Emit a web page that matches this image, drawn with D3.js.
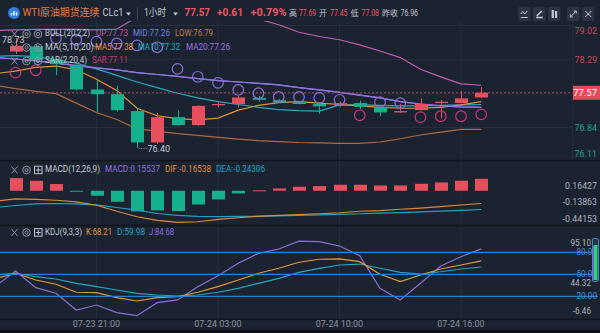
<!DOCTYPE html>
<html><head><meta charset="utf-8">
<script src="https://cdn.jsdelivr.net/npm/d3@7"></script>
<style>html,body{margin:0;padding:0;background:#1b2230;overflow:hidden}svg{display:block}</style>
</head><body><svg id="c" width="600" height="333"></svg>
<script>
// ---------- data ----------
const categories = ["07-23 16:00","07-23 17:00","07-23 18:00","07-23 19:00","07-23 20:00","07-23 21:00","07-23 22:00","07-23 23:00","07-24 00:00","07-24 01:00","07-24 02:00","07-24 03:00","07-24 04:00","07-24 06:00","07-24 07:00","07-24 08:00","07-24 09:00","07-24 10:00","07-24 11:00","07-24 12:00","07-24 13:00","07-24 14:00","07-24 15:00","07-24 16:00","07-24 17:00"];
const candleCats = categories.slice(1);
const openP  = [78.45,78.56,78.27,78.14,77.64,77.54,77.18,76.51,77.05,76.88,77.31,77.33,77.46,77.41,77.38,77.33,77.29,77.35,77.26,77.15,77.20,77.35,77.35,77.47];
const highP  = [78.73,78.60,78.30,78.20,77.84,77.71,77.25,77.14,77.20,77.30,77.38,77.50,77.50,77.44,77.40,77.35,77.38,77.40,77.30,77.33,77.45,77.42,77.61,77.69];
const lowP   = [78.40,78.22,77.95,77.62,77.15,77.17,76.40,76.48,76.87,76.86,77.26,77.26,77.38,77.35,77.32,77.12,77.27,77.22,77.07,77.14,77.20,77.03,77.35,77.45];
const closeP = [78.57,78.27,78.18,77.64,77.54,77.20,76.51,77.05,76.88,77.29,77.33,77.47,77.42,77.36,77.33,77.28,77.35,77.27,77.15,77.18,77.33,77.38,77.45,77.57];
const bollUp  = [78.90,78.91,78.92,78.92,78.92,78.91,78.93,79.18,79.32,79.40,79.40,79.36,79.26,79.14,79.02,78.86,78.77,78.70,78.59,78.46,78.32,78.07,77.91,77.76,77.73];
const bollMid = [78.32,78.29,78.25,78.20,78.15,78.10,78.06,78.00,77.96,77.92,77.87,77.83,77.80,77.77,77.74,77.68,77.63,77.58,77.52,77.46,77.38,77.33,77.29,77.27,77.26];
const bollLow = [77.73,77.66,77.60,77.55,77.35,77.15,77.00,76.80,76.75,76.70,76.66,76.62,76.58,76.55,76.53,76.51,76.50,76.49,76.49,76.52,76.59,76.67,76.73,76.79,76.79];
const ma5  = [77.98,78.03,78.11,78.14,78.06,77.86,77.62,77.24,77.08,77.02,76.99,77.03,77.20,77.30,77.36,77.38,77.35,77.32,77.29,77.26,77.24,77.24,77.26,77.31,77.38];
const ma10 = [78.35,78.36,78.34,78.28,78.20,78.08,77.94,77.80,77.68,77.56,77.46,77.38,77.32,77.26,77.21,77.19,77.18,77.31,77.31,77.30,77.29,77.29,77.30,77.31,77.32];
const ma20 = [78.32,78.29,78.25,78.20,78.15,78.10,78.06,78.00,77.96,77.92,77.87,77.83,77.80,77.77,77.74,77.68,77.63,77.58,77.52,77.46,77.38,77.33,77.29,77.27,77.26];
const sar  = [78.00,78.05,78.73,78.70,78.66,78.62,78.58,78.54,78.08,77.91,77.78,77.63,77.56,77.48,77.48,77.46,77.42,77.09,77.37,77.35,77.05,77.07,77.07,77.11];
const macdHist = [0.164,0.130,0.087,-0.010,-0.065,-0.143,-0.268,-0.255,-0.264,-0.178,-0.113,-0.035,0.006,0.030,0.052,0.061,0.078,0.078,0.069,0.069,0.091,0.108,0.130,0.155];
const dif = [-0.136,-0.106,-0.113,-0.123,-0.143,-0.188,-0.266,-0.337,-0.383,-0.409,-0.402,-0.370,-0.350,-0.331,-0.318,-0.309,-0.298,-0.285,-0.266,-0.257,-0.240,-0.225,-0.205,-0.185,-0.165];
const dea = [-0.217,-0.191,-0.171,-0.165,-0.169,-0.184,-0.217,-0.252,-0.295,-0.320,-0.333,-0.336,-0.333,-0.330,-0.327,-0.320,-0.314,-0.307,-0.298,-0.290,-0.283,-0.275,-0.265,-0.255,-0.243];
const kLine = [44.0,51.4,42.2,36.4,25.5,24.9,18.1,13.6,18.1,19.5,25.5,33.1,42.2,51.4,58.2,66.4,70.5,70.9,67.2,50.0,40.0,49.0,57.2,62.7,68.21];
const dLine = [49.0,51.4,46.7,43.6,37.7,33.1,28.6,24.1,21.8,20.4,21.8,25.5,30.9,37.7,44.5,52.7,58.2,62.7,64.0,58.2,52.7,50.4,53.5,57.2,59.98];
const jLine = [33.6,54.5,31.8,24.1,1.3,8.1,-2.3,-6.46,11.3,15.0,33.1,48.1,65.0,78.6,84.5,95.1,94.5,88.6,75.4,30.9,15.0,37.7,61.3,74.0,84.68];
const priceTicks = [79.02,78.29,77.57,76.84,76.11];
const lastPrice = 77.57;
const macdTicks = [0.16427,-0.13863,-0.44153];
const kdjLevels = [80,50,20];
const kdjTicks = ["95.10","80.00","50.00","44.32","20.00","-6.46"];
const kdjTickVals = [95.10,80,50,44.32,20,-6.46];
const timeTicks = ["07-23 21:00","07-24 03:00","07-24 10:00","07-24 16:00"];

// ---------- setup ----------
const svg = d3.select("#c");
const BG="#1b2230", GRID="#262e3d", TXT="#c4c9d2", RED="#e84f5e", GRN="#15b08c";
const C = {up:"#c45cb4", mid:"#8a78e6", low:"#b06a3a", ma5:"#e0962e", ma10:"#27a9c2", ma20:"#8f74e2",
  sarUp:"#8b6fd8", sarDn:"#c9367a", dif:"#d98c36", dea:"#1ea2c4", k:"#e39a30", d:"#1fa8c4", j:"#8c6fd8", lvl:"#2b7fc9"};
const FONT = "Roboto, 'Noto Sans CJK SC', sans-serif";
svg.append("rect").attr("width",600).attr("height",333).attr("fill",BG);

const x = d3.scalePoint().domain(categories).range([-4.75, 481.25]);
const yP = d3.scaleLinear().domain([76.84,78.29]).range([127,59]);
const yM = d3.scaleLinear().domain([-0.44153,0.16427]).range([224.8,178.1]);
const yK = d3.scaleLinear().domain([20,80]).range([296.3,252.3]);
const CW = 13;

const defs = svg.append("defs");
function clip(id,x0,y0,w,h){defs.append("clipPath").attr("id",id).append("rect").attr("x",x0).attr("y",y0).attr("width",w).attr("height",h);}
clip("cMain",0,21,573,139); clip("cMacd",0,161,573,64); clip("cKdj",0,226,590,93);

svg.append("g").selectAll("line").data(timeTicks).join("line")
  .attr("x1",d=>x(d)).attr("x2",d=>x(d)).attr("y1",21).attr("y2",319).attr("stroke",GRID).attr("stroke-width",1);
svg.append("g").attr("clip-path","url(#cMain)").selectAll("line").data(priceTicks).join("line")
  .attr("x1",0).attr("x2",573).attr("y1",d=>Math.round(yP(d))+0.5).attr("y2",d=>Math.round(yP(d))+0.5).attr("stroke",GRID);
svg.append("line").attr("x1",572.5).attr("x2",572.5).attr("y1",21).attr("y2",160).attr("stroke","#232a38");

[160.5,225.5,319.5].forEach(yy=>svg.append("line").attr("x1",0).attr("x2",600).attr("y1",yy).attr("y2",yy).attr("stroke","#10141b").attr("stroke-width",1.5));
svg.append("rect").attr("x",0).attr("y",330).attr("width",600).attr("height",3).attr("fill","#0c0f15");

// ---------- main pane ----------
const gMain = svg.append("g").attr("clip-path","url(#cMain)");
const line = (ys,arr)=>d3.line().x((d,i)=>x(categories[i])).y(d=>ys(d))(arr);
gMain.append("path").attr("d",line(yP,bollLow)).attr("fill","none").attr("stroke",C.low).attr("stroke-width",1.2);
gMain.append("path").attr("d",line(yP,bollUp)).attr("fill","none").attr("stroke",C.up).attr("stroke-width",1.2);
gMain.append("path").attr("d",line(yP,ma10)).attr("fill","none").attr("stroke",C.ma10).attr("stroke-width",1.2);
gMain.append("path").attr("d",line(yP,ma5)).attr("fill","none").attr("stroke",C.ma5).attr("stroke-width",1.2);
gMain.append("path").attr("d",line(yP,bollMid)).attr("fill","none").attr("stroke",C.mid).attr("stroke-width",1.2);
gMain.append("path").attr("d",line(yP,ma20)).attr("fill","none").attr("stroke",C.ma20).attr("stroke-width",1.2);

gMain.append("line").attr("x1",0).attr("x2",573).attr("y1",yP(lastPrice)).attr("y2",yP(lastPrice))
  .attr("stroke","#9c4654").attr("stroke-dasharray","2,2");

const cg = gMain.append("g").selectAll("g").data(candleCats).join("g");
cg.append("line").attr("x1",d=>Math.round(x(d))+0.5).attr("x2",d=>Math.round(x(d))+0.5)
  .attr("y1",(d,i)=>yP(highP[i])).attr("y2",(d,i)=>yP(lowP[i]))
  .attr("stroke",(d,i)=>closeP[i]>=openP[i]?RED:GRN);
cg.append("rect").attr("x",d=>Math.round(x(d))+0.5-CW/2).attr("width",CW)
  .attr("y",(d,i)=>yP(Math.max(openP[i],closeP[i])))
  .attr("height",(d,i)=>Math.max(1.2,Math.abs(yP(openP[i])-yP(closeP[i]))))
  .attr("fill",(d,i)=>closeP[i]>=openP[i]?RED:GRN);

gMain.append("g").selectAll("circle").data(candleCats).join("circle")
  .attr("cx",d=>x(d)).attr("cy",(d,i)=>yP(sar[i])).attr("r",5.3).attr("fill","none").attr("stroke-width",1.2)
  .attr("stroke",(d,i)=>sar[i]>highP[i]?C.sarUp:C.sarDn);

const iMax = d3.maxIndex(highP), iMin = d3.minIndex(lowP);
svg.append("text").attr("x",2).attr("y",yP(highP[iMax])+2.5).attr("font-size",9).attr("font-family",FONT).attr("fill",TXT).attr("dominant-baseline","middle").text(highP[iMax].toFixed(2));
svg.append("text").attr("x",x(candleCats[iMin])+1).attr("y",yP(lowP[iMin])+2).attr("font-size",9).attr("font-family",FONT).attr("fill",TXT).attr("dominant-baseline","middle").text("····"+lowP[iMin].toFixed(2));

svg.append("g").selectAll("text").data(priceTicks.filter(v=>v!==lastPrice)).join("text")
  .attr("x",597).attr("text-anchor","end").attr("dominant-baseline","middle")
  .attr("y",d=>Math.max(32,Math.min(155,yP(d)+2))).attr("font-size",9).attr("font-family",FONT)
  .attr("fill",d=>d>lastPrice?"#c94651":"#17a589").text(d=>d.toFixed(2));
svg.append("rect").attr("x",573).attr("y",yP(lastPrice)-7).attr("width",27).attr("height",14).attr("fill","#e04e5c");
svg.append("text").attr("x",597).attr("y",yP(lastPrice)+0.5).attr("text-anchor","end").attr("dominant-baseline","middle")
  .attr("font-size",9.5).attr("font-family",FONT).attr("fill","#fff").text(lastPrice.toFixed(2));

// ---------- MACD pane ----------
const gM = svg.append("g").attr("clip-path","url(#cMacd)");
gM.append("g").selectAll("rect").data(candleCats).join("rect")
  .attr("x",d=>Math.round(x(d))+0.5-CW/2).attr("width",CW)
  .attr("y",(d,i)=>Math.min(yM(0),yM(macdHist[i])))
  .attr("height",(d,i)=>Math.max(1,Math.abs(yM(macdHist[i])-yM(0))))
  .attr("fill",(d,i)=>macdHist[i]>=0?RED:GRN);
gM.append("path").attr("d",line(yM,dea)).attr("fill","none").attr("stroke",C.dea).attr("stroke-width",1.2);
gM.append("path").attr("d",line(yM,dif)).attr("fill","none").attr("stroke",C.dif).attr("stroke-width",1.2);
const macdLabelY = [186.7,202.5,219.3];
svg.append("g").selectAll("text").data(macdTicks).join("text")
  .attr("x",597).attr("y",(d,i)=>macdLabelY[i]).attr("text-anchor","end").attr("dominant-baseline","middle")
  .attr("font-size",8.8).attr("font-family",FONT).attr("fill","#aeb3bc").text(d=>d.toFixed(5));

// ---------- KDJ pane ----------
const gK = svg.append("g").attr("clip-path","url(#cKdj)");
svg.append("g").selectAll("line").data(kdjLevels).join("line")
  .attr("x1",0).attr("x2",598).attr("y1",d=>yK(d)).attr("y2",d=>yK(d)).attr("stroke",C.lvl).attr("stroke-width",1.2);
gK.append("path").attr("d",line(yK,jLine)).attr("fill","none").attr("stroke",C.j).attr("stroke-width",1.2);
gK.append("path").attr("d",line(yK,dLine)).attr("fill","none").attr("stroke",C.d).attr("stroke-width",1.2);
gK.append("path").attr("d",line(yK,kLine)).attr("fill","none").attr("stroke",C.k).attr("stroke-width",1.2);
const kdjLabelY = v=> v>90?244 : v<0?312 : (v===44.32?284:yK(v)+0.5);
svg.append("g").selectAll("text").data(kdjTickVals).join("text")
  .attr("x",(d)=>kdjLevels.includes(d)?597:591).attr("y",d=>kdjLabelY(d)).attr("text-anchor","end").attr("dominant-baseline","middle")
  .attr("font-size",8.2).attr("font-family",FONT)
  .attr("fill",d=>kdjLevels.includes(d)?"#3d8fd8":"#aeb3bc").text((d,i)=>kdjTicks[i]);
svg.append("rect").attr("x",592.5).attr("y",238.5).attr("width",6).attr("height",43).attr("rx",1.5).attr("fill","#2a3140").attr("stroke","#3b86d2");
svg.append("rect").attr("x",594).attr("y",245).attr("width",3.5).attr("height",35).attr("fill","#2fd46a");
svg.append("line").attr("x1",593.5).attr("x2",593.5).attr("y1",246).attr("y2",280).attr("stroke","#7a5cd0").attr("stroke-width",1);

// ---------- x axis ----------
svg.append("g").selectAll("text").data(timeTicks).join("text")
  .attr("x",d=>x(d)).attr("y",325).attr("text-anchor","middle").attr("dominant-baseline","middle")
  .attr("font-size",9).attr("font-family",FONT).attr("fill","#8b919d").text(d=>d);

// ---------- legends ----------
function icons(y, third){
  const g = svg.append("g").attr("stroke","#8f95a0").attr("fill","none").attr("stroke-width",1);
  g.append("path").attr("d",`M11.5,${y-3.5}L17.5,${y+3.5}M17.5,${y-3.5}L11.5,${y+3.5}`);
  g.append("circle").attr("cx",26.5).attr("cy",y).attr("r",3.8);
  g.append("circle").attr("cx",26.5).attr("cy",y).attr("r",1.5);
  if(third==="eye"){ g.append("circle").attr("cx",38).attr("cy",y).attr("r",3.8); g.append("circle").attr("cx",38).attr("cy",y).attr("r",1.6);}
  else { g.append("rect").attr("x",34.5).attr("y",y-3.8).attr("width",7.5).attr("height",7.5).attr("stroke","#c4c9d2");
         g.append("path").attr("stroke","#c4c9d2").attr("d",`M38.25,${y-2.5}V${y+2.5}M35.8,${y}H40.7`);}
}
function legend(y, items){
  svg.append("g").selectAll("text").data(items).join("text")
    .attr("x",d=>d[1]).attr("y",y).attr("dominant-baseline","middle").attr("font-size",8.8).attr("font-family",FONT)
    .attr("textLength",d=>d[3]).attr("lengthAdjust","spacingAndGlyphs")
    .attr("fill",d=>d[2]).text(d=>d[0]);
}
icons(34,"eye"); legend(34,[["BOLL(20,2,2)",45,TXT,45],["UP:77.73",96,"#cf56a2",32],["MID:77.26",133,"#6f7ee6",37],["LOW:76.79",175,"#c87c40",38]]);
icons(47.5,"eye"); legend(47.5,[["MA(5,10,20)",45,TXT,49],["MA5:77.38",95,"#e69a2e",38],["MA10:77.32",138,"#23b0c4",42],["MA20:77.26",186,"#9d72e2",44]]);
icons(61,"eye"); legend(61,[["SAR(2,20,4)",45,TXT,42],["SAR:77.11",92,"#c93a72",36]]);
icons(170,"box"); legend(170,[["MACD(12,26,9)",45,TXT,55],["MACD:0.15537",105,"#8e70e0",55],["DIF:-0.16538",165,"#e0923a",46],["DEA:-0.24306",216,"#1fa8c8",49]]);
icons(232.5,"box"); legend(232.5,[["KDJ(9,3,3)",45,TXT,37],["K:68.21",86,"#e39a30",26],["D:59.98",117,"#1fa8c8",28],["J:84.68",149,"#8e70e0",25]]);

// ---------- header ----------
const hg = svg.append("g");
hg.append("circle").attr("cx",14).attr("cy",13).attr("r",6).attr("fill","#2f7fe0");
[[11.5,2.5],[14,4.5],[16.5,3.2]].forEach(([bx,bh])=>hg.append("rect").attr("x",bx-0.7).attr("y",15.5-bh).attr("width",1.4).attr("height",bh).attr("fill","#fff"));
function ht(t,x0,w,c,fs,fw){hg.append("text").attr("x",x0).attr("y",13.5).attr("dominant-baseline","middle").attr("font-size",fs).attr("font-weight",fw||400)
  .attr("font-family",FONT).attr("fill",c).attr("textLength",w).attr("lengthAdjust","spacingAndGlyphs").text(t);}
ht("WTI原油期货连续",22.5,77,"#ec7a3c",10.5);
ht("CLc1",102.5,21,"#c4c9d2",10.5);
hg.append("path").attr("d","M126,12.5h5l-2.5,3z").attr("fill","#c4c9d2");
hg.append("line").attr("x1",137.5).attr("x2",137.5).attr("y1",7).attr("y2",20).attr("stroke","#3a4252");
ht("1小时",144,22,"#c4c9d2",10.5);
hg.append("path").attr("d","M173,12.5h5l-2.5,3z").attr("fill","#c4c9d2");
ht("77.57",184.5,25.5,"#ef5562",11,700);
ht("+0.61",217,26,"#ef5562",11,700);
ht("+0.79%",250.5,36,"#ef5562",11,700);
ht("高",289,8,"#c4c9d2",8.5);
ht("77.69",299,17,"#ef5562",8.5);
ht("开",319,8,"#c4c9d2",8.5);
ht("77.45",330,17.5,"#ef5562",8.5);
ht("低",350.5,8,"#c4c9d2",8.5);
ht("77.08",361.5,17.5,"#ef5562",8.5);
ht("昨收",382,16,"#c4c9d2",8.5);
ht("76.96",400.5,17.5,"#c4c9d2",8.5);
[518,533,548,567,582].forEach((bx,i)=>{
  hg.append("rect").attr("x",bx).attr("y",7).attr("width",12.5).attr("height",14).attr("rx",2).attr("fill","#2c3444");
  const cx=bx+6.25, cy=14;
  const p = hg.append("path").attr("fill","none").attr("stroke","#c4c9d2").attr("stroke-width",1);
  if(i===0) p.attr("d",`M${cx-3.5},${cy+3.5}H${cx+3.5}M${cx-3.5},${cy}L${cx-1.5},${cy-2.5}L${cx+0.5},${cy}L${cx+3},${cy-3}`);
  if(i===1) p.attr("d",`M${cx-3},${cy+3.5}H${cx+3.5}M${cx-2.5},${cy+2}L${cx+2.5},${cy-3}`).attr("stroke-width",1.6);
  if(i===2) p.attr("d",`M${cx-1.5},${cy-4}V${cy+4}M${cx+1.8},${cy-3}V${cy+4}`).attr("stroke-width",2.2);
  if(i===3) p.attr("d",`M${cx-3},${cy+3}L${cx+3},${cy-3}M${cx+0.5},${cy-3}H${cx+3}V${cy-0.5}M${cx-3},${cy+0.5}V${cy+3}H${cx-0.5}`);
  if(i===4) p.attr("d",`M${cx-3},${cy-3}L${cx+3},${cy+3}M${cx+3},${cy-3}L${cx-3},${cy+3}`);
});
</script></body></html>
